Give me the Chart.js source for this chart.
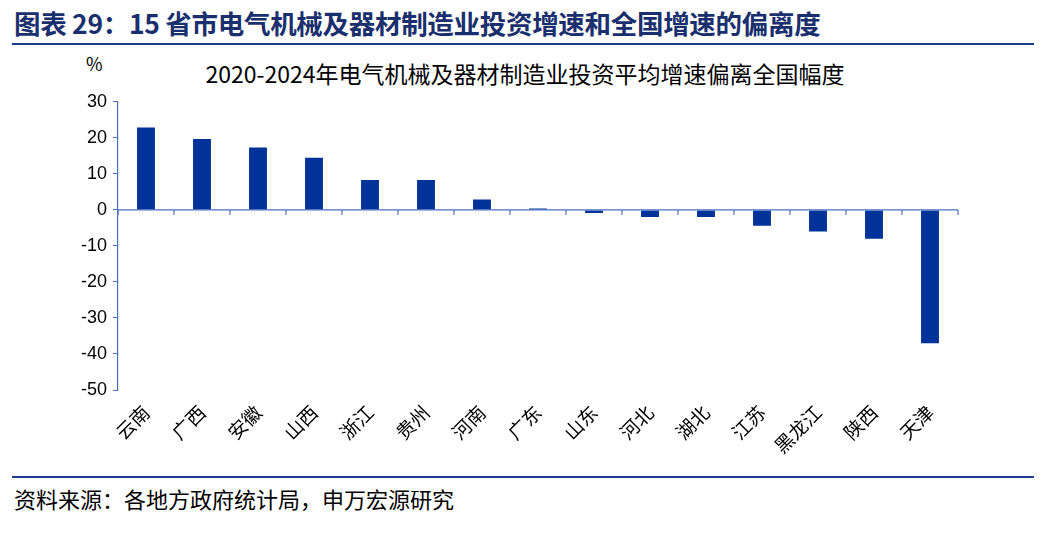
<!DOCTYPE html>
<html><head><meta charset="utf-8">
<script src="https://cdn.jsdelivr.net/npm/chart.js@4/dist/chart.umd.min.js"></script>
<style>
body{margin:0;width:1044px;height:536px;background:#fff;font-family:"Noto Sans CJK SC","Noto Sans",sans-serif;position:relative;overflow:hidden}
#hdr{position:absolute;left:14px;top:3px;font-size:26.5px;font-weight:bold;color:#1a2f6e;letter-spacing:-0.3px}
#hl{position:absolute;left:12px;right:10px;top:43px;border-top:2px solid #1a3d8f}
#ct{position:absolute;left:0;width:1044px;top:56px;text-align:center;font-size:23px;color:#000;padding-left:6px;box-sizing:border-box}
#pc{position:absolute;left:86px;top:50px;font-size:18px}
#fl{position:absolute;left:12px;right:10px;top:476px;border-top:2px solid #1a3d8f}
#src{position:absolute;left:14px;top:482px;font-size:22px;color:#000}
#wrap{position:absolute;left:0;top:85px;width:1044px;height:390px}
</style></head><body>
<div id="hdr">图表 29：15 省市电气机械及器材制造业投资增速和全国增速的偏离度</div>
<div id="hl"></div>
<div id="ct">2020-2024年电气机械及器材制造业投资平均增速偏离全国幅度</div>
<div id="pc">%</div>
<div id="wrap"><canvas id="c"></canvas></div>
<div id="fl"></div>
<div id="src">资料来源：各地方政府统计局，申万宏源研究</div>
<script>
const categories=["云南","广西","安徽","山西","浙江","贵州","河南","广东","山东","河北","湖北","江苏","黑龙江","陕西","天津"];
const values=[22.9,19.7,17.3,14.5,8.3,8.3,2.9,0.4,-0.9,-2.0,-2.0,-4.4,-6.0,-8.0,-37.0];
const yMin=-50,yMax=30,yStep=10;
const blue="#4a6fc0";
const zeroLine={id:"zeroLine",afterDatasetsDraw(ch){
 const x=ch.scales.x,y=ch.scales.y,ctx=ch.ctx,y0=y.getPixelForValue(0);
 ctx.save();ctx.strokeStyle=blue;ctx.lineWidth=1.2;ctx.beginPath();
 ctx.moveTo(ch.chartArea.left,y0);ctx.lineTo(ch.chartArea.right,y0);
 const w=(ch.chartArea.right-ch.chartArea.left)/categories.length;
 for(let i=0;i<=categories.length;i++){const px=ch.chartArea.left+i*w;ctx.moveTo(px,y0);ctx.lineTo(px,y0+5);}
 ctx.stroke();ctx.restore();}};
new Chart(document.getElementById("c"),{type:"bar",
 data:{labels:categories,datasets:[{data:values,backgroundColor:"#003399",barPercentage:0.32,categoryPercentage:1}]},
 options:{responsive:true,maintainAspectRatio:false,animation:false,
  layout:{padding:{top:4,right:86,left:0,bottom:0}},
  plugins:{legend:{display:false},tooltip:{enabled:false}},
  scales:{
   x:{grid:{display:false},border:{display:false},
      ticks:{color:"#000",font:{size:19,family:"Noto Sans CJK SC"},maxRotation:45,minRotation:45,autoSkip:false},
      afterFit(s){s.height=85;}},
   y:{min:yMin,max:yMax,
      ticks:{stepSize:yStep,color:"#000",font:{size:18,family:"Liberation Sans"},padding:6},
      grid:{drawOnChartArea:false,color:blue,tickLength:5},
      border:{color:blue,width:1.2},
      afterFit(s){s.width=118;}}}},
 plugins:[zeroLine]});
</script></body></html>
